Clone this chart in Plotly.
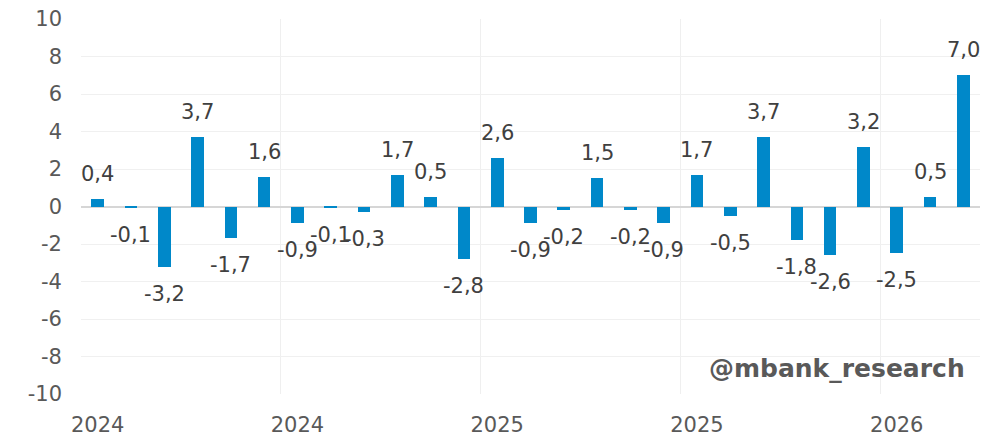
import plotly.graph_objects as go

values = [0.4, -0.1, -3.2, 3.7, -1.7, 1.6, -0.9, -0.1, -0.3, 1.7, 0.5, -2.8, 2.6, -0.9,
          -0.2, 1.5, -0.2, -0.9, 1.7, -0.5, 3.7, -1.8, -2.6, 3.2, -2.5, 0.5, 7.0]
x_idx = list(range(len(values)))
tick_positions = [0, 6, 12, 18, 24]
tick_labels = ["2024", "2024", "2025", "2025", "2026"]
y_ticks = [-10, -8, -6, -4, -2, 0, 2, 4, 6, 8, 10]
y_tick_labels = [str(t) for t in y_ticks]

FONT = "DejaVu Sans"
BAR_COLOR = "#0088C9"

fig = go.Figure()
fig.add_trace(go.Bar(x=x_idx, y=values, marker=dict(color=BAR_COLOR, line=dict(width=0)),
                     width=0.38, hoverinfo="y"))

annotations = []
for xi, v in zip(x_idx, values):
    annotations.append(dict(
        x=xi, y=v, xref="x", yref="y",
        text=f"{v:.1f}".replace(".", ","),
        showarrow=False, xanchor="center", yanchor="middle",
        yshift=25 if v >= 0 else -27,
        font=dict(family=FONT, size=21, color="#404040"),
    ))
annotations.append(dict(
    x=0.9855, y=0.069, xref="paper", yref="paper",
    text="<b>@mbank_research</b>", showarrow=False,
    xanchor="right", yanchor="middle",
    font=dict(family=FONT, size=25, color="#595959"),
))

fig.update_layout(
    width=1005, height=439,
    margin=dict(l=81, r=25, t=19, b=45),
    paper_bgcolor="white", plot_bgcolor="white",
    showlegend=False,
    bargap=0,
    annotations=annotations,
    xaxis=dict(
        range=[-0.5, len(values) - 0.5], automargin=False,
        tickmode="array", tickvals=tick_positions, ticktext=tick_labels,
        showgrid=False, zeroline=False, showline=False, ticks="",
        ticklabelstandoff=16,
        tickfont=dict(family=FONT, size=21, color="#595959"),
        minor=dict(tickvals=[p - 0.5 for p in tick_positions], showgrid=True,
                   gridcolor="#EFEFEF", gridwidth=1, ticks=""),
    ),
    yaxis=dict(
        range=[-10, 10], automargin=False,
        tickmode="array", tickvals=y_ticks, ticktext=y_tick_labels,
        showgrid=True, gridcolor="#F0F0F0", gridwidth=1,
        zeroline=True, zerolinecolor="#D6D6D6", zerolinewidth=2,
        showline=False, ticks="",
        ticklabelstandoff=18,
        tickfont=dict(family=FONT, size=21, color="#595959"),
    ),
)

fig.write_html("out.html")
